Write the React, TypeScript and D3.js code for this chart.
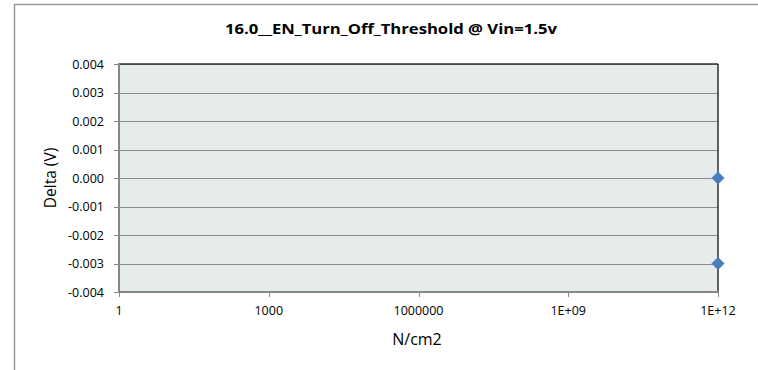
import React from "react";
import * as d3 from "d3";

const title = "16.0__EN_Turn_Off_Threshold @ Vin=1.5v";
const xLabel = "N/cm2";
const yLabel = "Delta (V)";
const xTicks = [1, 1e3, 1e6, 1e9, 1e12];
const xTickLabels = ["1", "1000", "1000000", "1E+09", "1E+12"];
const yTicks = [-0.004, -0.003, -0.002, -0.001, 0, 0.001, 0.002, 0.003, 0.004];
const pointsX = [1e12, 1e12];
const pointsY = [0.0, -0.003];

const W = 758;
const H = 370;
const plot = { left: 119, top: 64, right: 718, bottom: 292 };
const font = "'Open Sans', 'Liberation Sans', sans-serif";

export default function App() {
  const x = d3.scaleLog().base(10).domain([1, 1e12]).range([plot.left, plot.right]);
  const y = d3.scaleLinear().domain([-0.004, 0.004]).range([plot.bottom, plot.top]);
  const diamond = d3.symbol().type(d3.symbolDiamond2).size(100)();

  return (
    <svg
      width={W}
      height={H}
      style={{ position: "absolute", left: 0, top: 0, background: "#fff" }}
    >
      <rect x={0} y={0} width={W} height={H} fill="#fff" />
      {/* outer chart frame */}
      <rect x={14.5} y={4.5} width={W + 10} height={H + 10} fill="none" stroke="#9a9a9a" strokeWidth={1.5} />
      {/* title */}
      <text
        x={391}
        y={34}
        textAnchor="middle"
        fontFamily={font}
        fontWeight="bold"
        fontSize={14.5}
        fill="#000"
        textLength={332}
        lengthAdjust="spacingAndGlyphs"
      >
        {title}
      </text>
      {/* plot area */}
      <rect
        x={plot.left}
        y={plot.top}
        width={plot.right - plot.left}
        height={plot.bottom - plot.top}
        fill="#E6ECEC"
      />
      {/* gridlines */}
      {yTicks.map((t, i) => (
        <line
          key={"g" + i}
          x1={plot.left}
          x2={plot.right}
          y1={Math.round(y(t)) + 0.5}
          y2={Math.round(y(t)) + 0.5}
          stroke="#8c8c8c"
          strokeWidth={1}
        />
      ))}
      {/* top & right border */}
      <line x1={plot.left} x2={plot.right} y1={plot.top} y2={plot.top} stroke="#303030" strokeWidth={1.5} />
      <line x1={plot.right} x2={plot.right} y1={plot.top} y2={plot.bottom} stroke="#303030" strokeWidth={1.5} />
      {/* y axis */}
      <line x1={plot.left} x2={plot.left} y1={plot.top - 1} y2={plot.bottom + 1} stroke="#868686" strokeWidth={2} />
      {yTicks.map((t, i) => (
        <g key={"yt" + i}>
          <line
            x1={plot.left - 5}
            x2={plot.left}
            y1={Math.round(y(t)) + 0.5}
            y2={Math.round(y(t)) + 0.5}
            stroke="#868686"
            strokeWidth={1}
          />
          <text
            x={104}
            y={y(t) + 4.5}
            textAnchor="end"
            fontFamily={font}
            fontSize={12.5}
            fill="#000"
          >
            {t.toFixed(3)}
          </text>
        </g>
      ))}
      {/* x axis */}
      <line x1={plot.left - 1} x2={plot.right + 1} y1={plot.bottom} y2={plot.bottom} stroke="#868686" strokeWidth={2} />
      {xTicks.map((t, i) => (
        <g key={"xt" + i}>
          <line
            x1={Math.round(x(t)) + 0.5}
            x2={Math.round(x(t)) + 0.5}
            y1={plot.bottom}
            y2={plot.bottom + 5}
            stroke="#868686"
            strokeWidth={1}
          />
          <text
            x={x(t)}
            y={315}
            textAnchor="middle"
            fontFamily={font}
            fontSize={12.5}
            fill="#000"
          >
            {xTickLabels[i]}
          </text>
        </g>
      ))}
      {/* axis titles */}
      <text x={417} y={345} textAnchor="middle" fontFamily={font} fontSize={16} fill="#000">
        {xLabel}
      </text>
      <text
        transform={`translate(56,178) rotate(-90)`}
        textAnchor="middle"
        fontFamily={font}
        fontSize={15.5}
        fill="#000"
      >
        {yLabel}
      </text>
      {/* points */}
      {pointsX.map((px, i) => (
        <path
          key={"p" + i}
          d={diamond as string}
          transform={`translate(${x(px)},${y(pointsY[i])})`}
          fill="#4A7EBB"
          stroke="#4A7EBB"
          strokeWidth={0.5}
        />
      ))}
    </svg>
  );
}
